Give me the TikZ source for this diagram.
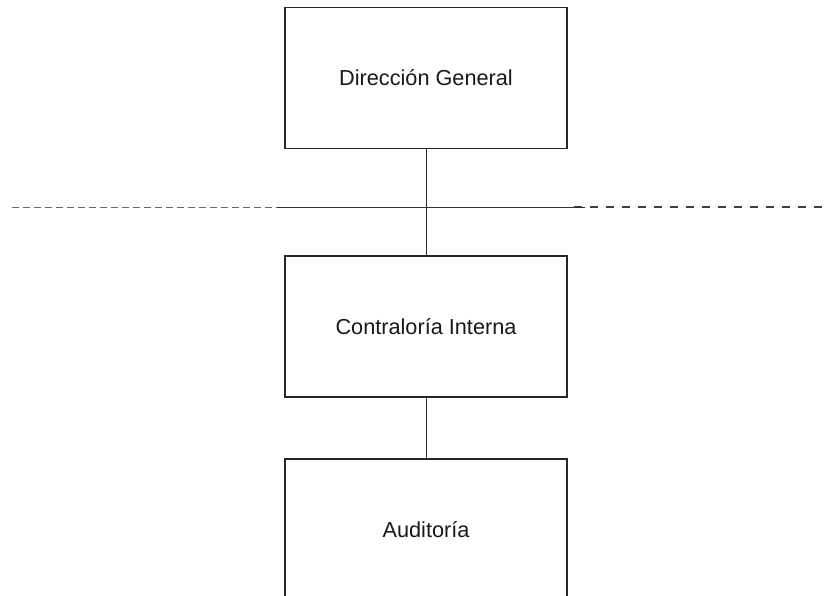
\documentclass[tikz,border=0pt]{standalone}
\usepackage{fontspec}
\setmainfont{Liberation Sans}
\begin{document}
\begin{tikzpicture}[x=1pt,y=-1pt,
  unitbox/.style={draw=black!85, line width=1.1pt, fill=white,
    minimum width=282pt, minimum height=141pt, inner sep=0pt,
    font=\fontsize{21.7}{26}\selectfont, text=black!90},
  link/.style={draw=black!80, line width=1pt},
  levelline/.style={draw=black!80, line width=1pt},
  leftdash/.style={draw=black!60, line width=1pt, dash pattern=on 6.8pt off 4.2pt},
  rightdash/.style={draw=black!75, line width=1.2pt, dash pattern=on 8.5pt off 7.5pt}]
  \useasboundingbox (0,0) rectangle (826,596);
  \clip (0,0) rectangle (826,596);

  % level separator: dashed on both sides, solid across the middle
  \coordinate (ls) at (12,207);
  \coordinate (la) at (277,207);
  \coordinate (lb) at (585,207);
  \coordinate (rs) at (573.5,207);
  \coordinate (le) at (822,207);
  \path[leftdash] (ls) -- (la);
  \path[rightdash] (rs) -- (le);
  \path[levelline] (la) -- (lb);

  % units
  \node[unitbox] (dg) at (426,78) {Dirección General};
  \node[unitbox] (ci) at (426,326.5) {Contraloría Interna};
  \node[unitbox] (au) at (426,529.5) {Auditoría};

  % reporting lines
  \path[link] (dg.south) -- (ci.north);
  \path[link] (ci.south) -- (au.north);
\end{tikzpicture}
\end{document}
